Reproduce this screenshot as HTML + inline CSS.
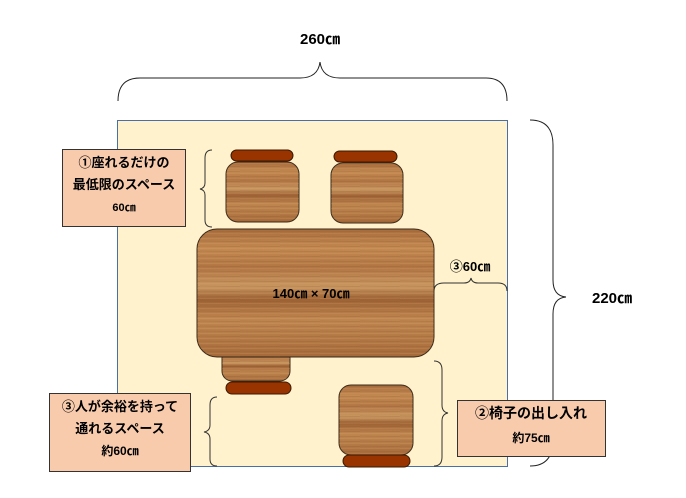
<!DOCTYPE html>
<html><head><meta charset="utf-8"><style>
html,body{margin:0;padding:0;background:#fff;}
svg{display:block;font-family:"Liberation Sans","Noto Sans CJK JP",sans-serif;}
</style></head><body>
<svg width="686" height="498" viewBox="0 0 686 498" xmlns="http://www.w3.org/2000/svg">
<defs>
<linearGradient id="wood" x1="0" y1="0" x2="0" y2="1">
<stop offset="0" stop-color="#a86c3c"/><stop offset="0.15" stop-color="#c48a52"/>
<stop offset="0.3" stop-color="#b27644"/><stop offset="0.45" stop-color="#c99660"/>
<stop offset="0.55" stop-color="#9e6234"/><stop offset="0.7" stop-color="#c08650"/>
<stop offset="0.85" stop-color="#b47a46"/><stop offset="1" stop-color="#a66a3a"/>
</linearGradient>
<pattern id="grain" width="40" height="5" patternUnits="userSpaceOnUse">
<rect width="40" height="5" fill="none"/>
<line x1="0" y1="1" x2="40" y2="1.5" stroke="#7a4a22" stroke-opacity="0.25" stroke-width="0.7"/>
<line x1="0" y1="3.5" x2="40" y2="3.2" stroke="#e0b07a" stroke-opacity="0.25" stroke-width="0.7"/>
</pattern>
</defs>
<rect x="117.5" y="120.5" width="390" height="346" fill="#fff2cc" stroke="#4a6fa5" stroke-width="1"/>
<path d="M118,101 Q118,78 140,78 L300,78 Q318,78 320,62 Q322,78 340,78 L486,78 Q507,78 507,101" fill="none" stroke="#222" stroke-width="1"/>
<text x="320" y="44" font-size="15" font-weight="bold" text-anchor="middle">260㎝</text>
<path d="M530,120 Q553,120 553,145 L553,280 Q553,296 566,297 Q553,298 553,314 L553,440 Q553,466 530,466" fill="none" stroke="#222" stroke-width="1"/>
<text x="612" y="303" font-size="15" font-weight="bold" text-anchor="middle">220㎝</text>
<path d="M212,150 Q205,150 205,158 L205,183 Q205,188 200,189 Q205,190 205,195 L205,220 Q205,227 212,227" fill="none" stroke="#333" stroke-width="1"/>
<path d="M434,291 Q434,283 444,283 L464,283 Q470,283 471,278 Q472,283 478,283 L498,283 Q507,283 507,291" fill="none" stroke="#333" stroke-width="1"/>
<text x="470" y="271" font-size="13" font-weight="bold" text-anchor="middle">③60㎝</text>
<path d="M217,397 Q210,397 210,405 L210,425 Q210,431 204,432 Q210,433 210,439 L210,459 Q210,466 217,466" fill="none" stroke="#333" stroke-width="1"/>
<path d="M434,361 Q442,361 442,370 L442,405 Q442,412 448,413 Q442,414 442,421 L442,457 Q442,466 434,466" fill="none" stroke="#333" stroke-width="1"/>
<rect x="231" y="150" width="62" height="11" rx="5.5" fill="#993300" stroke="#3a1a00"/>
<rect x="226" y="162" width="73" height="60" rx="12" fill="url(#wood)" stroke="#3a2a1a"/>
<rect x="226" y="162" width="73" height="60" rx="12" fill="url(#grain)"/>
<rect x="334" y="151" width="63" height="11" rx="5.5" fill="#993300" stroke="#3a1a00"/>
<rect x="331" y="163" width="72" height="60" rx="12" fill="url(#wood)" stroke="#3a2a1a"/>
<rect x="331" y="163" width="72" height="60" rx="12" fill="url(#grain)"/>
<rect x="222" y="348" width="68" height="33" rx="10" fill="url(#wood)" stroke="#3a2a1a"/>
<rect x="222" y="348" width="68" height="33" rx="10" fill="url(#grain)"/>
<rect x="226" y="382" width="65" height="12" rx="6" fill="#993300" stroke="#3a1a00"/>
<rect x="339" y="385" width="74" height="70" rx="12" fill="url(#wood)" stroke="#3a2a1a"/>
<rect x="339" y="385" width="74" height="70" rx="12" fill="url(#grain)"/>
<rect x="343" y="455" width="67" height="12" rx="6" fill="#993300" stroke="#3a1a00"/>
<rect x="197" y="229" width="237" height="128" rx="20" fill="url(#wood)" stroke="#3a2a1a"/>
<rect x="197" y="229" width="237" height="128" rx="20" fill="url(#grain)"/>
<text x="311" y="298" font-size="13" font-weight="bold" text-anchor="middle">140㎝ × 70㎝</text>
<rect x="62.5" y="149.5" width="123" height="77" fill="#f8cbad" stroke="#333"/>
<text x="124" y="167" font-size="13" font-weight="bold" text-anchor="middle">①座れるだけの</text>
<text x="124" y="189" font-size="13" font-weight="bold" text-anchor="middle">最低限のスペース</text>
<text x="124" y="211" font-size="11" font-weight="bold" text-anchor="middle">60㎝</text>
<rect x="49.5" y="393.5" width="141" height="78" fill="#f8cbad" stroke="#333"/>
<text x="120" y="411" font-size="13" font-weight="bold" text-anchor="middle">③人が余裕を持って</text>
<text x="120" y="433" font-size="13" font-weight="bold" text-anchor="middle">通れるスペース</text>
<text x="120" y="455" font-size="12" font-weight="bold" text-anchor="middle">約60㎝</text>
<rect x="457.5" y="400.5" width="148" height="56" fill="#f8cbad" stroke="#333"/>
<text x="531" y="418" font-size="14" font-weight="bold" text-anchor="middle">②椅子の出し入れ</text>
<text x="531" y="442" font-size="12" font-weight="bold" text-anchor="middle">約75㎝</text>
</svg>
</body></html>
